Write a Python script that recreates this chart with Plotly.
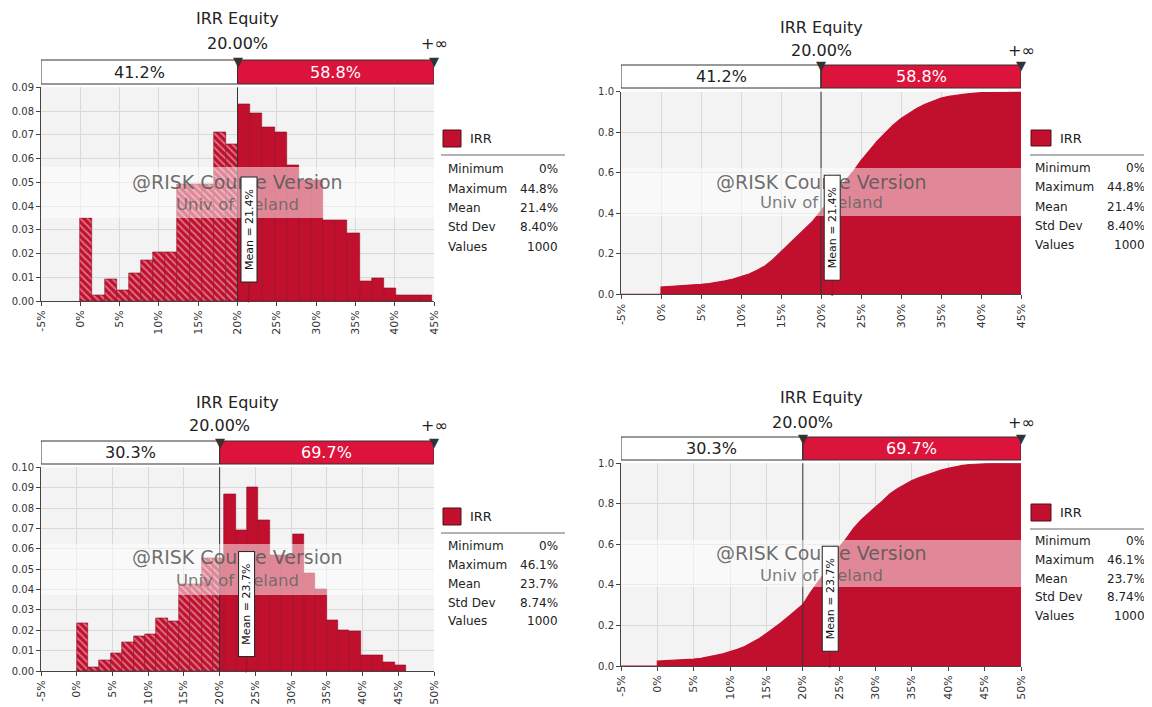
import plotly.graph_objects as go

W, H = 1152, 707
PAGE_OFFSET = 8  # default body margin of the html page
THRESH = 20.0

# ---------------- data ----------------
ticks_a = [-5, 0, 5, 10, 15, 20, 25, 30, 35, 40, 45]
ticks_b = [-5, 0, 5, 10, 15, 20, 25, 30, 35, 40, 45, 50]
ticklabels_a = ["-5%", "0%", "5%", "10%", "15%", "20%", "25%", "30%", "35%", "40%", "45%"]
ticklabels_b = ["-5%", "0%", "5%", "10%", "15%", "20%", "25%", "30%", "35%", "40%", "45%", "50%"]

# histogram, scenario A (29 bins from min to max)
hist_a_min, hist_a_max = 0.0, 44.8
hist_a = [0.035, 0.0025, 0.009, 0.0045, 0.0115, 0.017, 0.0207, 0.0207, 0.049, 0.049, 0.049, 0.071, 0.066,
          0.083, 0.079, 0.073, 0.071, 0.057, 0.051, 0.051, 0.034, 0.034, 0.0285, 0.0084, 0.0095, 0.0053,
          0.0025, 0.0025, 0.0025]
# histogram, scenario B
hist_b_min, hist_b_max = 0.0, 46.1
hist_b = [0.0234, 0.0018, 0.0054, 0.0087, 0.014, 0.017, 0.018, 0.0258, 0.0246, 0.0428, 0.0428, 0.0553, 0.0553,
          0.0869, 0.0692, 0.0902, 0.0741, 0.057, 0.057, 0.0671, 0.048, 0.040, 0.025, 0.0201, 0.0193, 0.0075,
          0.0075, 0.0043, 0.0026]

# cumulative curves
cdf_a_x = [-5, 0, 0, 1, 2, 3, 4, 5, 6, 7, 8, 9, 10, 11, 12, 13, 14, 15, 16, 17, 18, 19, 20, 21, 22, 23, 24,
           25, 26, 27, 28, 29, 30, 31, 32, 33, 34, 35, 36, 37, 38, 39, 40, 42, 44.8, 45]
cdf_a_y = [0, 0, 0.036, 0.038, 0.040, 0.043, 0.046, 0.049, 0.053, 0.058, 0.066, 0.075, 0.087, 0.100, 0.118,
           0.140, 0.172, 0.210, 0.245, 0.283, 0.322, 0.362, 0.412, 0.460, 0.510, 0.555, 0.605, 0.660, 0.710,
           0.755, 0.795, 0.835, 0.868, 0.895, 0.918, 0.938, 0.955, 0.968, 0.977, 0.984, 0.988, 0.992, 0.995,
           0.997, 1.0, 1.0]
cdf_b_x = [-5, 0, 0, 2, 4, 5, 6, 7, 8, 9, 10, 11, 12, 13, 14, 15, 16, 17, 18, 19, 20, 21, 22, 23, 24, 25,
           26, 27, 28, 29, 30, 31, 32, 33, 34, 35, 36, 37, 38, 39, 40, 41, 42, 43, 44, 46.1, 50]
cdf_b_y = [0, 0, 0.024, 0.027, 0.031, 0.034, 0.038, 0.044, 0.052, 0.060, 0.070, 0.082, 0.096, 0.114, 0.136,
           0.160, 0.185, 0.213, 0.243, 0.272, 0.303, 0.360, 0.410, 0.460, 0.520, 0.585, 0.630, 0.680, 0.720,
           0.755, 0.785, 0.815, 0.850, 0.875, 0.895, 0.915, 0.930, 0.943, 0.955, 0.967, 0.975, 0.983, 0.990,
           0.994, 0.997, 1.0, 1.0]

pct_a = ["41.2%", "58.8%"]
pct_b = ["30.3%", "69.7%"]
mean_a, mean_b = 21.4, 23.7
stat_names = ["Minimum", "Maximum", "Mean", "Std Dev", "Values"]
stats_a = ["0%", "44.8%", "21.4%", "8.40%", "1000"]
stats_b = ["0%", "46.1%", "23.7%", "8.74%", "1000"]
series_name = "IRR"
chart_title = "IRR Equity"
thresh_label = "20.00%"

# ---------------- style ----------------
RED = "#c0102e"
RED_DARK = "#8e0b22"
BOX_RED = "#dc143c"
GRID = "#d9d9d9"
TXT = "#222222"
FONT = "DejaVu Sans"


def fx(px):
    return (px - PAGE_OFFSET) / W


def fy(py):
    return 1 - (py - PAGE_OFFSET) / H


panels = [
    dict(kind="hist", n=1, probs=hist_a, hmin=hist_a_min, hmax=hist_a_max, rect=(41, 87.3, 434, 301),
         xr=(-5, 45), xt=ticks_a, xl=ticklabels_a, ymax=0.09, dtick=0.01, yfmt=".2f",
         box=(60, 84), title_y=18, thr_y=43, pct=pct_a, mean=mean_a, mean_py=230,
         sq=(443, 130, 461, 147), irr_y=138.5, line_y=155, lx0=441, lx1=565, rows=[169, 189, 208, 227, 247],
         labx=446, valx=560, stats=stats_a, band=(167, 218), wm=(182, 205)),
    dict(kind="cdf", n=2, cx=cdf_a_x, cy=cdf_a_y, rect=(621, 91.7, 1021, 294.3),
         xr=(-5, 45), xt=ticks_a, xl=ticklabels_a, ymax=1.0, dtick=0.2, yfmt=".1f",
         box=(65, 88), title_y=27, thr_y=50, pct=pct_a, mean=mean_a, mean_py=227.5,
         sq=(1031, 130, 1051, 146), irr_y=138, line_y=155, lx0=1030, lx1=1150, rows=[168, 187, 207, 226, 245],
         labx=1033, valx=1147, stats=stats_a, band=(168, 216), wm=(182, 203)),
    dict(kind="hist", n=3, probs=hist_b, hmin=hist_b_min, hmax=hist_b_max, rect=(41, 467.3, 434, 671),
         xr=(-5, 50), xt=ticks_b, xl=ticklabels_b, ymax=0.10, dtick=0.01, yfmt=".2f",
         box=(441, 464), title_y=402, thr_y=425, pct=pct_b, mean=mean_b, mean_py=604,
         sq=(443, 508, 461, 525), irr_y=516, line_y=533, lx0=441, lx1=565, rows=[546, 565, 584, 603, 621],
         labx=446, valx=560, stats=stats_b, band=(544, 595), wm=(557, 580)),
    dict(kind="cdf", n=4, cx=cdf_b_x, cy=cdf_b_y, rect=(621, 463.3, 1021, 666),
         xr=(-5, 50), xt=ticks_b, xl=ticklabels_b, ymax=1.0, dtick=0.2, yfmt=".1f",
         box=(437, 460), title_y=398, thr_y=422, pct=pct_b, mean=mean_b, mean_py=599,
         sq=(1031, 504, 1051, 521), irr_y=512, line_y=529, lx0=1030, lx1=1150, rows=[541, 560, 579, 597, 616],
         labx=1033, valx=1147, stats=stats_b, band=(540, 587), wm=(553, 575)),
]

fig = go.Figure()
shapes = []
annotations = []
layout_axes = {}


def ann(**kw):
    kw.setdefault("showarrow", False)
    kw.setdefault("xanchor", "center")
    kw.setdefault("yanchor", "middle")
    annotations.append(kw)


for p in panels:
    n = p["n"]
    xa = "x" if n == 1 else f"x{n}"
    ya = "y" if n == 1 else f"y{n}"
    xkey = "xaxis" if n == 1 else f"xaxis{n}"
    ykey = "yaxis" if n == 1 else f"yaxis{n}"
    x0p, y0p, x1p, y1p = p["rect"]
    xc = fx((x0p + x1p) / 2)

    layout_axes[xkey] = dict(
        domain=[fx(x0p), fx(x1p)], anchor=ya, range=list(p["xr"]), automargin=False,
        tickmode="array", tickvals=p["xt"], ticktext=p["xl"], tickangle=-90,
        ticks="outside", ticklen=4, tickcolor="#444", showline=True, linecolor="#444", linewidth=1,
        showgrid=True, gridcolor=GRID, gridwidth=1, zeroline=False,
        tickfont=dict(size=11, color="#333", family=FONT), fixedrange=True,
    )
    layout_axes[ykey] = dict(
        domain=[fy(y1p), fy(y0p)], anchor=xa, range=[0, p["ymax"]], dtick=p["dtick"], tick0=0,
        tickformat=p["yfmt"], ticks="outside", ticklen=4, tickcolor="#444", automargin=False,
        showline=True, linecolor="#444", linewidth=1,
        showgrid=True, gridcolor=GRID, gridwidth=1, zeroline=False,
        tickfont=dict(size=10, color="#333", family=FONT), fixedrange=True,
    )

    if p["kind"] == "hist":
        probs = p["probs"]
        nb = len(probs)
        w = (p["hmax"] - p["hmin"]) / nb
        lx, lw, ly, rx, rw, ry = [], [], [], [], [], []
        for k, v in enumerate(probs):
            lo = p["hmin"] + k * w
            hi = lo + w
            if lo < THRESH:
                e = min(hi, THRESH)
                lx.append((lo + e) / 2); lw.append(e - lo); ly.append(v)
            if hi > THRESH:
                s = max(lo, THRESH)
                rx.append((s + hi) / 2); rw.append(hi - s); ry.append(v)
        fig.add_trace(go.Bar(
            x=lx, y=ly, width=lw, xaxis=xa, yaxis=ya, showlegend=False, hoverinfo="skip",
            marker=dict(color=RED, line=dict(color=RED_DARK, width=0.6),
                        pattern=dict(shape="\\", fgcolor="rgba(255,255,255,0.85)", size=5, solidity=0.35)),
        ))
        fig.add_trace(go.Bar(
            x=rx, y=ry, width=rw, xaxis=xa, yaxis=ya, showlegend=False, hoverinfo="skip",
            marker=dict(color=RED, line=dict(color=RED_DARK, width=0.6)),
        ))
    else:
        fig.add_trace(go.Scatter(
            x=p["cx"], y=p["cy"], mode="lines", fill="tozeroy", fillcolor=RED,
            line=dict(color=RED, width=1.2), xaxis=xa, yaxis=ya, showlegend=False, hoverinfo="skip",
        ))

    # delimiter line through plot
    shapes.append(dict(type="line", xref=xa, yref=f"{ya} domain", x0=THRESH, x1=THRESH, y0=0, y1=1,
                       line=dict(color="#333", width=1), layer="above"))
    # watermark band
    shapes.append(dict(type="rect", xref="paper", yref="paper", x0=fx(x0p), x1=fx(x1p),
                       y0=fy(p["band"][1]), y1=fy(p["band"][0]), fillcolor="rgba(255,255,255,0.5)",
                       line=dict(width=0), layer="above"))
    # probability bar on top
    bt, bb = p["box"]
    shapes.append(dict(type="rect", xref=xa, yref="paper", x0=p["xr"][0], x1=THRESH, y0=fy(bb), y1=fy(bt),
                       fillcolor="white", line=dict(color="#333", width=1)))
    shapes.append(dict(type="rect", xref=xa, yref="paper", x0=THRESH, x1=p["xr"][1], y0=fy(bb), y1=fy(bt),
                       fillcolor=BOX_RED, line=dict(color="#333", width=1)))
    shapes.append(dict(type="line", xref=xa, yref="paper", x0=THRESH, x1=THRESH, y0=fy(bb), y1=fy(bt),
                       line=dict(color="#333", width=1)))
    ann(xref=xa, yref="paper", x=(p["xr"][0] + THRESH) / 2, y=fy((bt + bb) / 2),
        text=p["pct"][0], font=dict(size=16, color=TXT, family=FONT))
    ann(xref=xa, yref="paper", x=(THRESH + p["xr"][1]) / 2, y=fy((bt + bb) / 2),
        text=p["pct"][1], font=dict(size=16, color="white", family=FONT))
    for xv in (THRESH, p["xr"][1]):
        ann(xref=xa, yref="paper", x=xv, y=fy(bt + 1), text="▼",
            font=dict(size=13, color="#333", family=FONT))
    # titles
    ann(xref="paper", yref="paper", x=xc, y=fy(p["title_y"]),
        text=chart_title, font=dict(size=16, color=TXT, family=FONT))
    ann(xref=xa, yref="paper", x=THRESH, y=fy(p["thr_y"]),
        text=thresh_label, font=dict(size=16, color=TXT, family=FONT))
    ann(xref=xa, yref="paper", x=p["xr"][1], y=fy(p["thr_y"]),
        text="+∞", font=dict(size=16, color=TXT, family=FONT))
    # watermark text
    ann(xref="paper", yref="paper", x=xc, y=fy(p["wm"][0]),
        text="@RISK Course Version", font=dict(size=19, color="rgba(85,85,85,0.85)", family=FONT))
    ann(xref="paper", yref="paper", x=xc, y=fy(p["wm"][1]),
        text="Univ of Iceland", font=dict(size=16.5, color="rgba(100,100,100,0.85)", family=FONT))
    # mean marker
    annotations.append(dict(xref=xa, yref=ya, x=p["mean"], y=0, text=f"Mean = {p['mean']}%",
                            textangle=-90, showarrow=True, arrowhead=6, arrowsize=0.7, arrowwidth=1,
                            arrowcolor="#a0102a", ax=0, ay=-(y1p - p["mean_py"]),
                            bgcolor="white", bordercolor="#222", borderwidth=1, borderpad=1,
                            width=102, height=13, font=dict(size=11, color="#111", family=FONT)))
    # stats legend
    sx0, sy0, sx1, sy1 = p["sq"]
    shapes.append(dict(type="rect", xref="paper", yref="paper", x0=fx(sx0), x1=fx(sx1), y0=fy(sy1), y1=fy(sy0),
                       fillcolor=RED, line=dict(color="#5a0a18", width=1)))
    ann(xref="paper", yref="paper", x=fx(sx1 + 7), y=fy(p["irr_y"]), xanchor="left",
        text=series_name, font=dict(size=13, color=TXT, family=FONT))
    shapes.append(dict(type="line", xref="paper", yref="paper", x0=fx(p["lx0"]), x1=fx(p["lx1"]),
                       y0=fy(p["line_y"]), y1=fy(p["line_y"]), line=dict(color="#9a9a9a", width=1.5)))
    for name, val, ry in zip(stat_names, p["stats"], p["rows"]):
        ann(xref="paper", yref="paper", x=fx(p["labx"]), y=fy(ry), xanchor="left",
            text=name, font=dict(size=12, color=TXT, family=FONT))
        ann(xref="paper", yref="paper", x=fx(p["valx"]), y=fy(ry), xanchor="right",
            text=val, font=dict(size=12, color=TXT, family=FONT))

fig.update_layout(
    width=W, height=H, margin=dict(l=0, r=0, t=0, b=0, pad=0, autoexpand=False),
    paper_bgcolor="white", plot_bgcolor="#f3f3f3",
    barmode="overlay", bargap=0, showlegend=False,
    font=dict(family=FONT, color=TXT),
    shapes=shapes, annotations=annotations,
    **layout_axes,
)

fig.write_html("out.html")
